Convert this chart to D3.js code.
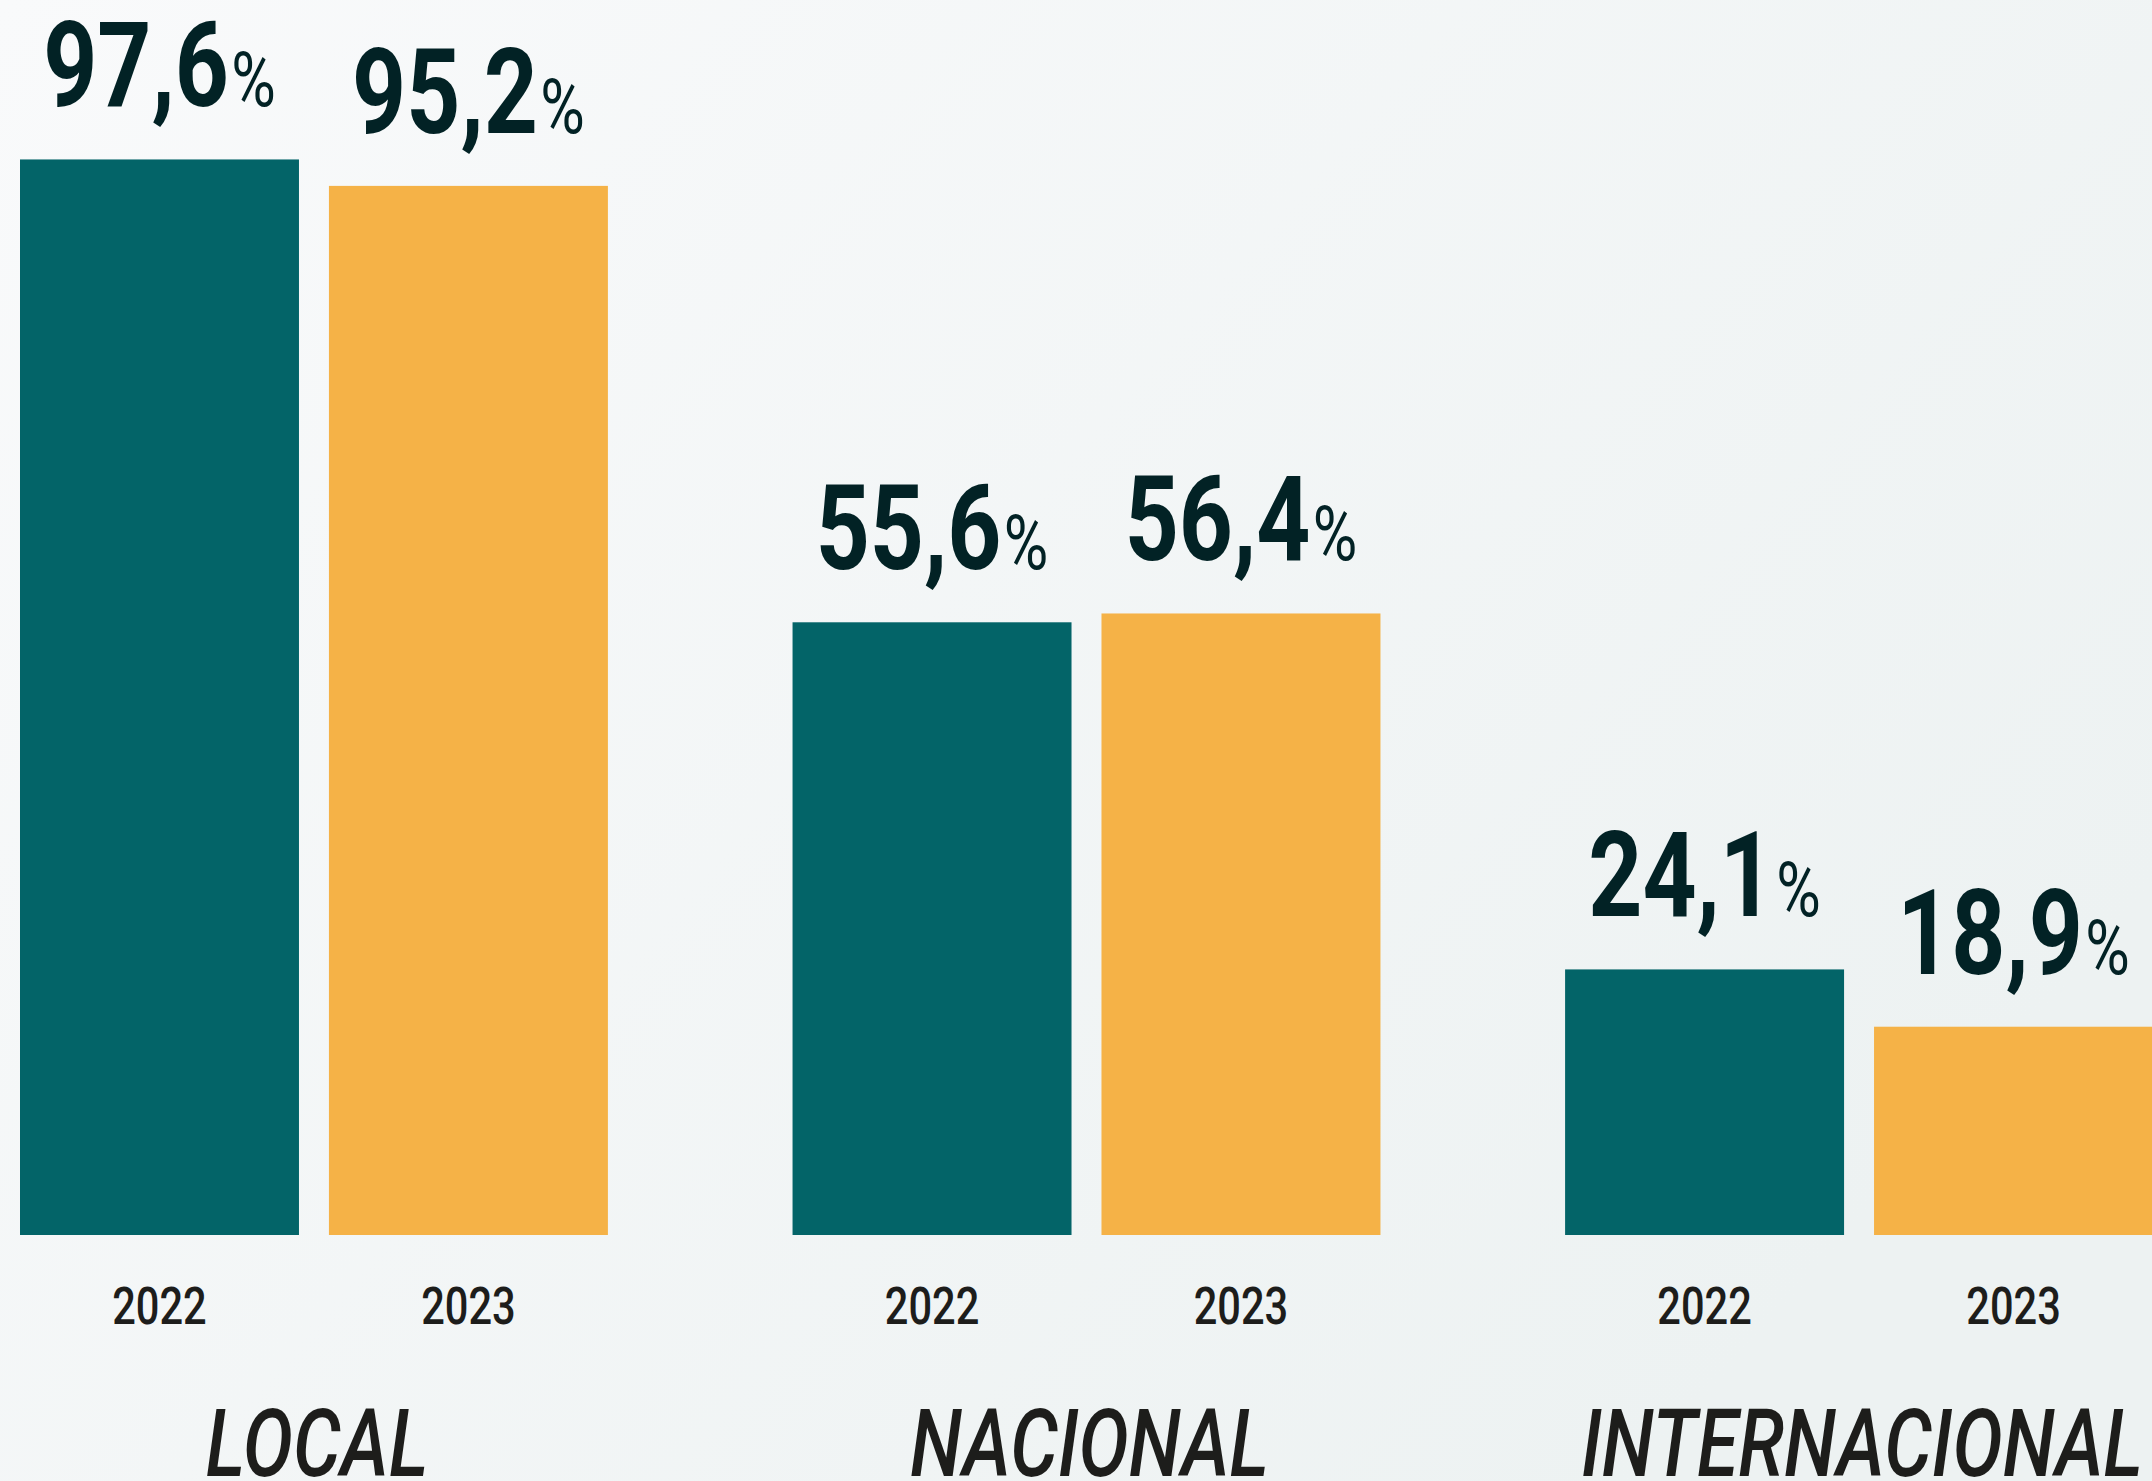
<!DOCTYPE html>
<html>
<head>
<meta charset="utf-8">
<script src="https://cdn.jsdelivr.net/npm/d3@7"></script>
<style>
  html, body { margin: 0; padding: 0; overflow: hidden; }
  svg { display: block; }
</style>
</head>
<body>
<svg id="chart" width="2152" height="1481"></svg>
<script>
// Reach of coverage by scope, 2022 vs 2023 (percent)
const categories = ["LOCAL", "NACIONAL", "INTERNACIONAL"];
const years = ["2022", "2023"];
const values2022 = [97.6, 55.6, 24.1];
const values2023 = [95.2, 56.4, 18.9];

const seriesByYear = { "2022": values2022, "2023": values2023 };
const colors = { "2022": "#036468", "2023": "#f5b247" };

const W = 2152, H = 1481;
const svg = d3.select("#chart");

// soft background wash
const defs = svg.append("defs");
const grad = defs.append("linearGradient")
  .attr("id", "bg").attr("x1", "0%").attr("y1", "0%").attr("x2", "100%").attr("y2", "60%");
grad.append("stop").attr("offset", "0%").attr("stop-color", "#f9fafb");
grad.append("stop").attr("offset", "100%").attr("stop-color", "#edf2f2");
svg.append("rect").attr("width", W).attr("height", H).attr("fill", "url(#bg)");

const x0 = d3.scaleBand().domain(categories).range([20, 2153]).paddingInner(0.239).paddingOuter(0);
const x1 = d3.scaleBand().domain(years).range([0, x0.bandwidth()]).paddingInner(0.097).paddingOuter(0);
const y = d3.scaleLinear().domain([0, 100]).range([1235, 133]);

const rows = categories.flatMap((c, i) => years.map(yr => ({ cat: c, year: yr, value: seriesByYear[yr][i] })));

const FONT = "Roboto, 'Noto Sans', sans-serif";
const SQUEEZE = 0.8; // condensed look for all labels
const barCenter = d => x0(d.cat) + x1(d.year) + x1.bandwidth() / 2;

// bars
svg.selectAll("rect.bar")
  .data(rows)
  .join("rect")
  .attr("class", "bar")
  .attr("x", d => x0(d.cat) + x1(d.year))
  .attr("y", d => y(d.value))
  .attr("width", x1.bandwidth())
  .attr("height", d => y(0) - y(d.value))
  .attr("fill", d => colors[d.year]);

// value labels: bold number + light percent sign
const fmt = v => v.toFixed(1).replace(".", ",");
const vl = svg.selectAll("text.value")
  .data(rows)
  .join("text")
  .attr("class", "value")
  .attr("transform", d => `translate(${barCenter(d)},${y(d.value) - 53}) scale(${SQUEEZE},1)`)
  .attr("text-anchor", "middle")
  .attr("font-family", FONT)
  .attr("fill", "#022225");
vl.append("tspan")
  .attr("font-size", 118)
  .attr("font-weight", 700)
  .text(d => fmt(d.value));
vl.append("tspan")
  .attr("dx", 3)
  .attr("font-size", 76)
  .attr("font-weight", 400)
  .text("%");

// year labels under each bar
svg.selectAll("text.year")
  .data(rows)
  .join("text")
  .attr("class", "year")
  .attr("transform", d => `translate(${barCenter(d)},1324) scale(${SQUEEZE},1)`)
  .attr("text-anchor", "middle")
  .attr("font-family", FONT)
  .attr("font-size", 52)
  .attr("font-weight", 500)
  .attr("fill", "#1d1d1b")
  .text(d => d.year);

// category labels
svg.selectAll("text.cat")
  .data(categories)
  .join("text")
  .attr("class", "cat")
  .attr("transform", d => `translate(${x0(d) + x0.bandwidth() / 2 + 3},1476) scale(${SQUEEZE},1)`)
  .attr("text-anchor", "middle")
  .attr("font-family", FONT)
  .attr("font-size", 94)
  .attr("font-style", "italic")
  .attr("font-weight", 500)
  .attr("fill", "#1d1d1b")
  .text(d => d);
</script>
</body>
</html>
